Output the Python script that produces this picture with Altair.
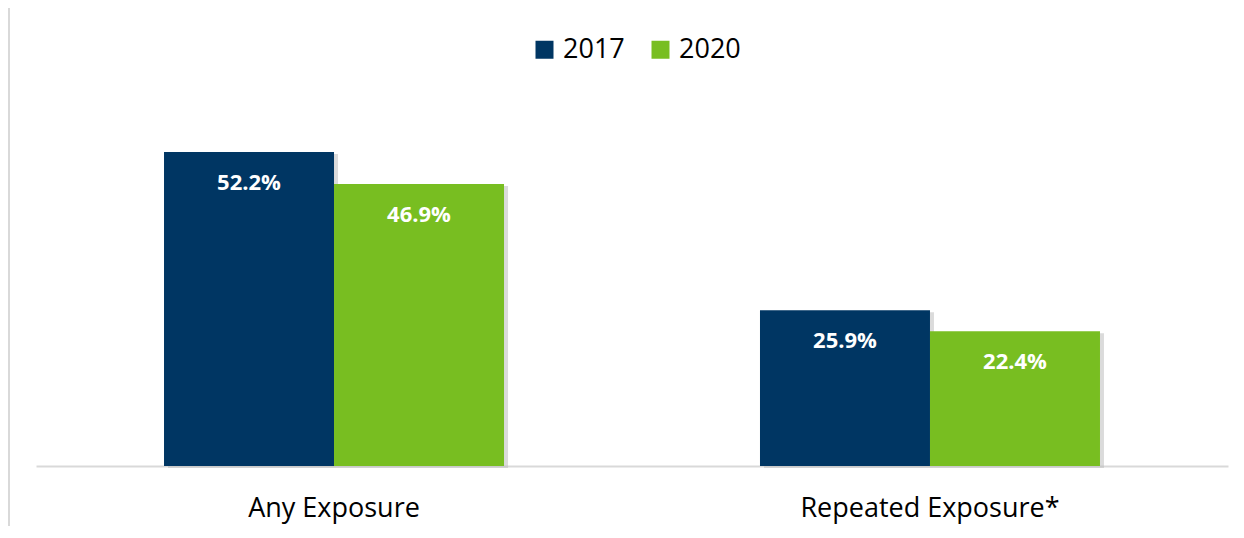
import altair as alt
import pandas as pd

categories = ["Any Exposure", "Repeated Exposure*"]
years = ["2017", "2020"]
values_2017 = [52.2, 25.9]
values_2020 = [46.9, 22.4]
colors = ["#003663", "#78BE21"]

rows = []
for i, c in enumerate(categories):
    rows.append({"category": c, "year": years[0], "value": values_2017[i]})
    rows.append({"category": c, "year": years[1], "value": values_2020[i]})
df = pd.DataFrame(rows)
df["label"] = df["value"].map(lambda v: f"{v:.1f}%")

FONT = "Open Sans"

x = alt.X("category:N", sort=categories, title=None,
          scale=alt.Scale(paddingInner=0.4295, paddingOuter=0.2148),
          axis=alt.Axis(labelAngle=0, labelFontSize=27, labelFont=FONT, labelLimit=0,
                        labelColor="#000000", labelPadding=29, ticks=False,
                        domainColor="#d9d9d9", domainWidth=2))
xo = alt.XOffset("year:N", sort=years,
                 scale=alt.Scale(type="band", paddingInner=0, paddingOuter=0))
xo_shadow = alt.XOffset("year:N", sort=years,
                        scale=alt.Scale(type="band", paddingInner=0, paddingOuter=0,
                                        range=[4, 344]))
y = alt.Y("value:Q", scale=alt.Scale(domain=[0, 70], nice=False), axis=None)
color = alt.Color("year:N", sort=years, scale=alt.Scale(domain=years, range=colors),
                  legend=alt.Legend(title=None, orient="none", legendX=495, legendY=-9,
                                    direction="horizontal", symbolType="square",
                                    symbolSize=324, symbolStrokeWidth=0,
                                    labelFontSize=27, labelFont=FONT,
                                    labelColor="#000000", labelOffset=5,
                                    columnPadding=22, symbolOpacity=1))

base = alt.Chart(df)

shadow = base.mark_bar(color="#bdbdbd", opacity=0.55, yOffset=2).encode(
    x=x, xOffset=xo_shadow, y=y)

bars = base.mark_bar(opacity=1).encode(x=x, xOffset=xo, y=y, color=color)

labels = base.mark_text(color="white", fontWeight="bold", fontSize=22, font=FONT,
                        baseline="middle", dy=31).encode(
    x=x, xOffset=xo, y=y, text="label:N")

frame = alt.Chart(pd.DataFrame({"k": [0]})).mark_rule(color="#d9d9d9", strokeWidth=2).encode(
    x=alt.value(-27), y=alt.value(-37), y2=alt.value(490))

chart = alt.layer(frame, shadow, bars, labels).resolve_scale(
    xOffset="independent"
).properties(
    width=1192, height=421,
    autosize=alt.AutoSizeParams(type="none"),
    padding={"left": 28, "top": 37, "right": 8, "bottom": 60},
).configure_view(stroke=None)

chart.save("out.html", embed_options={"renderer": "svg", "actions": False})
